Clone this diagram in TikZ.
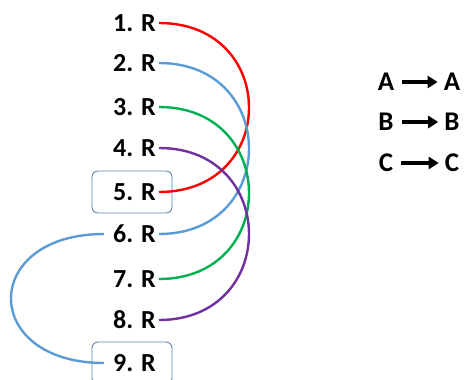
\documentclass[tikz,border=0pt]{standalone}
\usepackage{fontspec}
\setmainfont{Carlito}
\usetikzlibrary{arrows.meta}
\definecolor{linkred}{RGB}{255,0,0}
\definecolor{linkblue}{RGB}{91,155,213}
\definecolor{linkgreen}{RGB}{0,176,80}
\definecolor{linkpurple}{RGB}{112,48,160}
\definecolor{boxline}{RGB}{100,130,170}

\begin{document}
\begin{tikzpicture}[x=1pt,y=-1pt,
    lbl/.style={font=\fontsize{26}{30}\selectfont\bfseries, inner sep=0pt, anchor=east},
    letter/.style={font=\fontsize{27}{30}\selectfont\bfseries, inner sep=0pt},
    frame/.style={draw=boxline, line width=0.9pt, rounded corners=6pt,
                  minimum width=80pt, minimum height=42pt},
    link/.style={line width=2.4pt}]
  \clip (0,0) rectangle (464,380);
  % boxes round 5 and 9
  \node[frame] (f5) at (132,192) {};
  \node[frame] (f9) at (132,363) {};
  % the nine rows
  \foreach \n/\y in {1/23,2/63,3/107,4/148,5/192,6/234,7/279,8/320,9/363}
    \node[lbl] (r\n) at (156,\y) {\n. R};
  % links on the right
  \draw[link, linkred] ([xshift=3pt]r1.east) .. controls +(120,0) and +(120,0) .. ([xshift=3pt]r5.east);
  \draw[link, linkblue] ([xshift=3pt]r2.east) .. controls +(120,0) and +(120,0) .. ([xshift=3pt]r6.east);
  \draw[link, linkgreen] ([xshift=3pt]r3.east) .. controls +(120,0) and +(120,0) .. ([xshift=3pt]r7.east);
  \draw[link, linkpurple] ([xshift=3pt]r4.east) .. controls +(120,0) and +(120,0) .. ([xshift=3pt]r8.east);
  % loop on the left
  \draw[link, linkblue] ([xshift=-9pt]r6.west) .. controls +(-124,0) and +(-124,0) .. ([xshift=-9pt]r9.west);
  % key
  \foreach \c/\y in {A/82,B/122,C/163} {
    \node[letter] (s\c) at (386,\y) {\c};
    \node[letter] (t\c) at (452,\y) {\c};
    \draw[-{Triangle[length=10pt,width=12pt]}, line width=3.6pt]
      ([xshift=8pt]s\c.east) -- ([xshift=-6pt]t\c.west);
  }
\end{tikzpicture}
\end{document}
